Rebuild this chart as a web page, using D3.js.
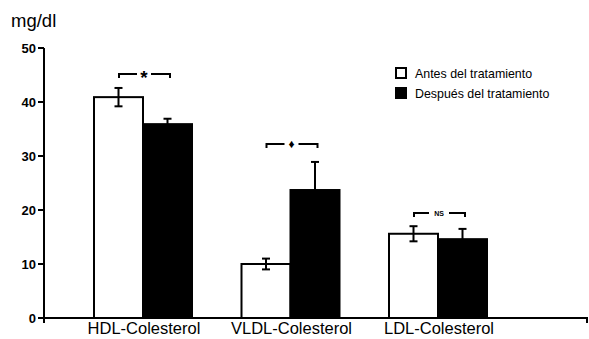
<!DOCTYPE html>
<html><head><meta charset="utf-8">
<script src="https://cdn.jsdelivr.net/npm/d3@7"></script>
<style>body{margin:0;background:#fff}svg{display:block;font-family:"Liberation Sans",Arial,sans-serif}</style>
</head><body><svg id="c" width="589" height="339"></svg>
<script>
const categories = ["HDL-Colesterol","VLDL-Colesterol","LDL-Colesterol"];
const series = ["Antes del tratamiento","Después del tratamiento"];
const antes = [40.9, 10.0, 15.6];
const antesErr = [1.7, 1.0, 1.4];
const despues = [35.9, 23.7, 14.6];
const despuesErr = [1.0, 5.2, 1.9];
const signif = ["*","♦","NS"];
const yTicks = [0,10,20,30,40,50];

const svg = d3.select("#c");
const x0 = 44, x1 = 588;
const y = d3.scaleLinear().domain([0,50]).range([318,48]);
const xc = d3.scalePoint().domain(categories).range([143,438]);
const bw = 49;

// bars
const vals = [antes, despues], errs = [antesErr, despuesErr];
categories.forEach((c,i)=>{
  [0,1].forEach(s=>{
    const bx = xc(c) + (s===0 ? -bw : 0);
    svg.append("rect").attr("x",bx).attr("y",y(vals[s][i])).attr("width",bw)
      .attr("height",y(0)-y(vals[s][i])).attr("fill",s===0?"#fff":"#000")
      .attr("stroke","#000").attr("stroke-width",2);
    const cx = bx + bw/2, v = vals[s][i], e = errs[s][i];
    const top = y(v+e), bot = s===0 ? y(v-e) : y(v);
    svg.append("line").attr("x1",cx).attr("x2",cx).attr("y1",top).attr("y2",bot).attr("stroke","#000").attr("stroke-width",2);
    svg.append("line").attr("x1",cx-4).attr("x2",cx+4).attr("y1",top).attr("y2",top).attr("stroke","#000").attr("stroke-width",2);
    if (s===0) svg.append("line").attr("x1",cx-4).attr("x2",cx+4).attr("y1",bot).attr("y2",bot).attr("stroke","#000").attr("stroke-width",2);
  });
});

// significance brackets
const brY = [74, 144, 213];
categories.forEach((c,i)=>{
  const cx = xc(c), by = brY[i], l = cx-24, r = cx+27;
  const gap = signif[i]==="NS" ? 10 : 7;
  svg.append("path").attr("d",`M${l},${by+4}V${by}H${cx+1-gap}M${cx+1+gap},${by}H${r}V${by+4}`)
    .attr("fill","none").attr("stroke","#000").attr("stroke-width",2);
  const t = svg.append("text").attr("x",cx+1).attr("text-anchor","middle").attr("font-weight","bold").text(signif[i]);
  if (signif[i]==="*") t.attr("y",by+10).attr("font-size",19);
  else if (signif[i]==="NS") t.attr("y",by+3).attr("font-size",7);
  else t.attr("y",by+4).attr("font-size",12);
});

// axes
svg.append("line").attr("x1",x0).attr("x2",x0).attr("y1",y(50)).attr("y2",y(0)+1).attr("stroke","#000").attr("stroke-width",2);
svg.append("line").attr("x1",x0-1).attr("x2",x1).attr("y1",y(0)).attr("y2",y(0)).attr("stroke","#000").attr("stroke-width",2);
svg.append("line").attr("x1",x1-1).attr("x2",x1-1).attr("y1",y(0)).attr("y2",y(0)+5).attr("stroke","#000").attr("stroke-width",2);
svg.append("line").attr("x1",x0).attr("x2",x0).attr("y1",y(0)).attr("y2",y(0)+5).attr("stroke","#000").attr("stroke-width",2);
yTicks.forEach(t=>{
  svg.append("line").attr("x1",x0-6).attr("x2",x0).attr("y1",y(t)).attr("y2",y(t)).attr("stroke","#000").attr("stroke-width",2);
  svg.append("text").attr("x",x0-8).attr("y",y(t)+5).attr("text-anchor","end").attr("font-size",13).attr("font-weight","bold").text(t);
});
categories.forEach(c=>{
  svg.append("text").attr("x",xc(c)+1).attr("y",334).attr("text-anchor","middle").attr("font-size",16.5).text(c);
});
svg.append("text").attr("x",11).attr("y",27).attr("font-size",18.5).text("mg/dl");

// legend
series.forEach((s,i)=>{
  const ly = 68 + i*20;
  svg.append("rect").attr("x",396).attr("y",ly).attr("width",10).attr("height",10)
    .attr("fill",i===0?"#fff":"#000").attr("stroke","#000").attr("stroke-width",2);
  svg.append("text").attr("x",415).attr("y",ly+10).attr("font-size",12.4).text(s);
});
</script></body></html>
